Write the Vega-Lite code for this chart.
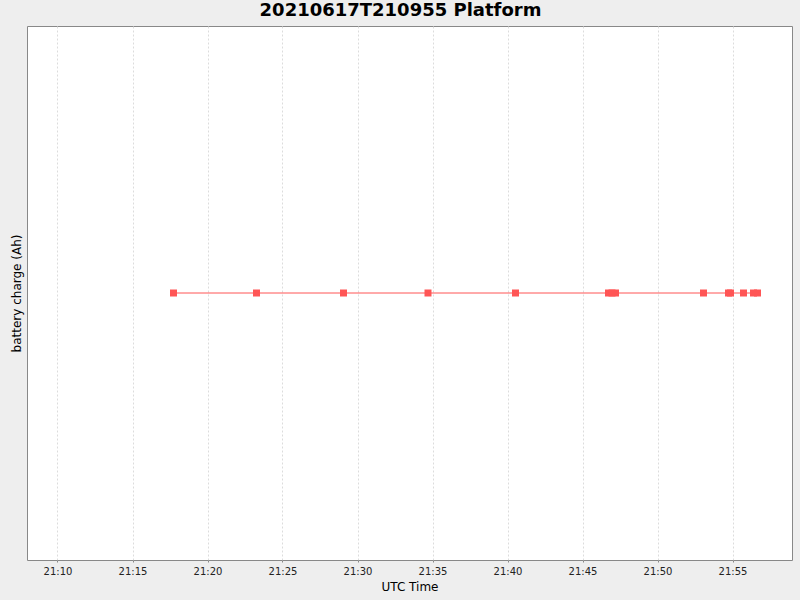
{
  "$schema": "https://vega.github.io/schema/vega-lite/v6.json",
  "autosize": {"type": "none"},
  "width": 765,
  "height": 534,
  "padding": {"left": 27, "top": 26, "right": 8, "bottom": 40},
  "background": "#EEEEEE",
  "title": {
    "text": "20210617T210955 Platform",
    "font": "DejaVu Sans",
    "fontSize": 18,
    "fontWeight": "bold",
    "color": "#000000",
    "anchor": "middle",
    "dx": -9,
    "offset": 6
  },
  "config": {
    "view": {"fill": "#FFFFFF", "stroke": "#888888", "strokeWidth": 1},
    "axis": {
      "labelFont": "DejaVu Sans",
      "titleFont": "DejaVu Sans",
      "labelFontSize": 10,
      "titleFontSize": 12,
      "titleFontWeight": "normal",
      "labelColor": "#222222",
      "titleColor": "#000000"
    }
  },
  "data": {
    "values": [
      {"time": "2021-06-17T21:17:44Z", "charge": 1},
      {"time": "2021-06-17T21:23:16Z", "charge": 1},
      {"time": "2021-06-17T21:29:04Z", "charge": 1},
      {"time": "2021-06-17T21:34:42Z", "charge": 1},
      {"time": "2021-06-17T21:40:32Z", "charge": 1},
      {"time": "2021-06-17T21:46:44Z", "charge": 1},
      {"time": "2021-06-17T21:46:58Z", "charge": 1},
      {"time": "2021-06-17T21:47:12Z", "charge": 1},
      {"time": "2021-06-17T21:53:04Z", "charge": 1},
      {"time": "2021-06-17T21:54:44Z", "charge": 1},
      {"time": "2021-06-17T21:54:52Z", "charge": 1},
      {"time": "2021-06-17T21:55:44Z", "charge": 1},
      {"time": "2021-06-17T21:56:24Z", "charge": 1},
      {"time": "2021-06-17T21:56:40Z", "charge": 1}
    ]
  },
  "encoding": {
    "x": {
      "field": "time",
      "type": "temporal",
      "title": "UTC Time",
      "scale": {
        "type": "utc",
        "domain": [
          {"year": 2021, "month": 6, "date": 17, "hours": 21, "minutes": 7, "seconds": 58, "utc": true},
          {"year": 2021, "month": 6, "date": 17, "hours": 21, "minutes": 58, "seconds": 58, "utc": true}
        ]
      },
      "axis": {
        "format": "%H:%M",
        "tickCount": 10,
        "grid": true,
        "gridColor": "#DCDCDC",
        "gridDash": [2, 2],
        "gridWidth": 1,
        "domain": false,
        "ticks": true,
        "tickSize": 2,
        "tickColor": "#888888",
        "labelPadding": 4,
        "titlePadding": 5,
        "labelFlush": false
      }
    },
    "y": {
      "field": "charge",
      "type": "quantitative",
      "title": "battery charge (Ah)",
      "scale": {"domain": [0, 2]},
      "axis": {
        "labels": false,
        "ticks": false,
        "grid": false,
        "domain": false,
        "titlePadding": 4
      }
    }
  },
  "layer": [
    {
      "mark": {"type": "line", "color": "#FF5555", "strokeWidth": 1}
    },
    {
      "mark": {"type": "point", "shape": "square", "filled": true, "size": 49, "color": "#FF5555", "opacity": 1}
    }
  ]
}
